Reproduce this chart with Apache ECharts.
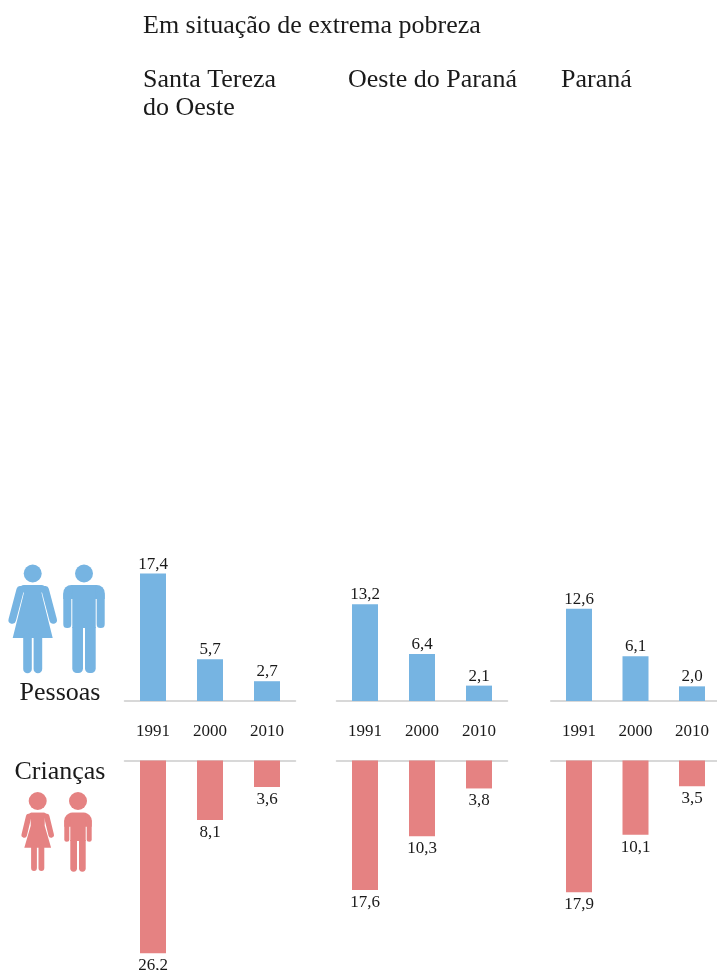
<!-- Extrema pobreza: pessoas e crianças -->
<!DOCTYPE html>
<html lang="pt" style="height: 100%">
<head>
  <meta charset="utf-8">
</head>
<body style="height: 100%; margin: 0; background: #fff">
<div id="container" style="width: 717px; height: 970px"></div>

<script type="text/javascript" src="https://fastly.jsdelivr.net/npm/echarts@6/dist/echarts.min.js"></script>
<script type="text/javascript">
  var years = ['1991', '2000', '2010'];
  var regions = ['Santa Tereza\ndo Oeste', 'Oeste do Paraná', 'Paraná'];
  var pessoas = [
    [17.4, 5.7, 2.7],
    [13.2, 6.4, 2.1],
    [12.6, 6.1, 2.0]
  ];
  var criancas = [
    [26.2, 8.1, 3.6],
    [17.6, 10.3, 3.8],
    [17.9, 10.1, 3.5]
  ];

  var BLUE = '#76b4e2';
  var RED = '#e58282';
  var INK = '#1a1a1a';
  var FONT = '"Liberation Serif", serif';
  var panelLeft = [124.5, 336.5, 550.75];
  var panelWidth = [171, 171, 169.5];
  var titleX = [143, 348, 561];

  function comma(p) {
    return p.value.toFixed(1).replace('.', ',');
  }

  var grids = [], xAxes = [], yAxes = [], series = [];
  function addPanel(k, top, height, max, values, color, lower) {
    var i = grids.length;
    grids.push({ left: panelLeft[k], top: top, width: panelWidth[k], height: height, outerBoundsMode: 'none' });
    xAxes.push({
      gridIndex: i,
      type: 'category',
      data: years,
      position: lower ? 'top' : 'bottom',
      axisLine: { lineStyle: { color: '#cccccc', width: 1.5 } },
      axisTick: { show: false },
      axisLabel: lower ? { show: false } : {
        interval: 0, margin: 22, fontFamily: FONT, fontSize: 17, color: INK
      }
    });
    yAxes.push({ gridIndex: i, type: 'value', min: 0, max: max, inverse: lower, show: false });
    series.push({
      type: 'bar',
      xAxisIndex: i,
      yAxisIndex: i,
      data: values,
      barWidth: 26,
      itemStyle: { color: color },
      label: {
        show: true,
        position: lower ? 'bottom' : 'top',
        distance: lower ? 4 : 1,
        formatter: comma,
        fontFamily: FONT,
        fontSize: 17,
        color: INK
      }
    });
  }
  regions.forEach(function (r, k) {
    addPanel(k, 554.5, 146.5, 20, pessoas[k], BLUE, false);
    addPanel(k, 760.5, 206, 28, criancas[k], RED, true);
  });

  function text(x, y, t, size, align) {
    return {
      type: 'text', x: x, y: y, silent: true,
      style: {
        text: t, fontFamily: FONT, fontSize: size, fill: INK, lineHeight: 28,
        textAlign: align || 'left', textVerticalAlign: 'top'
      }
    };
  }
  function circle(cx, cy, color) {
    return { type: 'circle', silent: true, shape: { cx: cx, cy: cy, r: 9 }, style: { fill: color } };
  }
  function box(x0, y0, x1, y1, r, color) {
    return {
      type: 'rect', silent: true,
      shape: { x: x0, y: y0, width: x1 - x0, height: y1 - y0, r: r },
      style: { fill: color }
    };
  }
  function stroke(pts, w, color) {
    return {
      type: 'polyline', silent: true,
      shape: { points: pts },
      style: { stroke: color, lineWidth: w, lineCap: 'round', fill: null }
    };
  }
  function woman(cx, headY, o, color) {
    return [
      circle(cx, headY, color),
      { type: 'polygon', silent: true, style: { fill: color }, shape: { points: [
        [cx - 7, o.top], [cx + 7, o.top], [cx + o.waist, o.top + 13],
        [cx + o.skirt, o.hem], [cx - o.skirt, o.hem], [cx - o.waist, o.top + 13]
      ] } },
      stroke([[cx - o.sh, o.top + o.aw / 2 + 1], [cx - o.hand, o.handY]], o.aw, color),
      stroke([[cx + o.sh, o.top + o.aw / 2 + 1], [cx + o.hand, o.handY]], o.aw, color),
      box(cx - o.sh, o.top, cx + o.sh, o.top + o.aw, 4, color),
      stroke([[cx - o.leg, o.hem], [cx - o.leg, o.foot]], o.lw, color),
      stroke([[cx + o.leg, o.hem], [cx + o.leg, o.foot]], o.lw, color)
    ];
  }
  function man(cx, headY, o, color) {
    return [
      circle(cx, headY, color),
      box(cx - o.outer, o.top, cx + o.outer, o.top + 14, [8, 8, 0, 0], color),
      box(cx - o.torso, o.top, cx + o.torso, o.split + 1, 0, color),
      box(cx - o.outer, o.top + 6, cx - o.torso - 1, o.armEnd, o.aw / 2, color),
      box(cx + o.torso + 1, o.top + 6, cx + o.outer, o.armEnd, o.aw / 2, color),
      box(cx - o.torso, o.split, cx - 1, o.foot, [0, 0, 4.5, 4.5], color),
      box(cx + 1, o.split, cx + o.torso, o.foot, [0, 0, 4.5, 4.5], color)
    ];
  }

  var graphics = [text(143, 12, 'Em situação de extrema pobreza', 26)];
  regions.forEach(function (r, k) {
    graphics.push(text(titleX[k], 66, r, 26));
  });
  graphics.push(text(60, 679, 'Pessoas', 26, 'center'));
  graphics.push(text(60, 758, 'Crianças', 26, 'center'));
  graphics = graphics
    .concat(woman(32.7, 573.5, { top: 585, waist: 10, skirt: 20, hem: 638, sh: 12.5, hand: 20.5, handY: 620, aw: 7.5, leg: 5.2, lw: 8.6, foot: 669 }, BLUE))
    .concat(man(84, 573.5, { top: 585, outer: 20.7, torso: 11.7, split: 627, armEnd: 628, aw: 7.7, foot: 673 }, BLUE))
    .concat(woman(37.7, 801, { top: 812.7, waist: 7, skirt: 13.4, hem: 847.7, sh: 9, hand: 13.5, handY: 835, aw: 5.5, leg: 3.7, lw: 5.8, foot: 868 }, RED))
    .concat(man(78, 801, { top: 812.7, outer: 13.7, torso: 7.7, split: 840, armEnd: 841.7, aw: 5, foot: 871.7 }, RED));

  var myChart = echarts.init(document.getElementById('container'), null, { renderer: 'canvas' });
  myChart.setOption({
    animation: false,
    grid: grids,
    xAxis: xAxes,
    yAxis: yAxes,
    series: series,
    graphic: graphics
  });
</script>
</body>
</html>
